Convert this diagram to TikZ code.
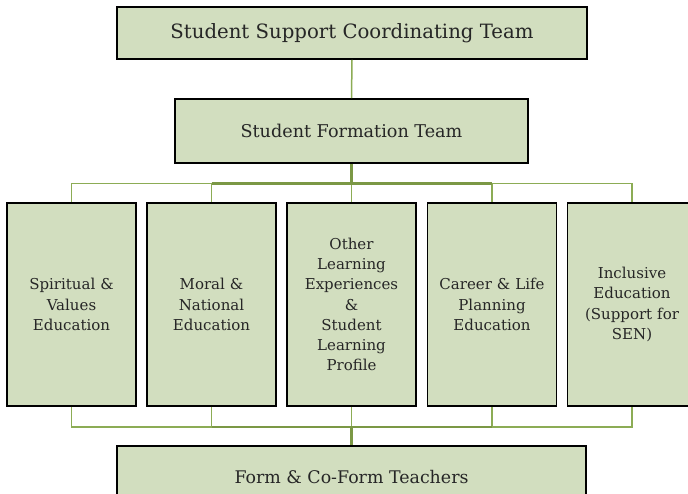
\documentclass[tikz,border=0pt]{standalone}
\usepackage{fontspec}
\setmainfont{DejaVu Serif}
\definecolor{boxfill}{HTML}{D2DEBF}
\definecolor{linelight}{HTML}{8CAC55}
\definecolor{linedark}{HTML}{7B9845}
\definecolor{txt}{HTML}{262626}
\begin{document}
\begin{tikzpicture}[x=1pt,y=-1pt,
  box/.style={draw=black,line width=1.6pt,fill=boxfill,inner sep=0pt,text=txt,align=center},
  colbox/.style={box,minimum width=129pt,minimum height=203pt,text width=127pt,font=\fontsize{15}{20.2}\selectfont},
  thinline/.style={draw=linelight,line width=1.5pt},
  thickline/.style={draw=linedark,line width=2.3pt}]
\clip (0,0) rectangle (688,493);
\fill[white] (0,0) rectangle (688,493);
\node[box,minimum width=470pt,minimum height=52pt,font=\fontsize{19.7}{22}\selectfont] (top) at (352,33) {Student Support Coordinating Team};
\node[box,minimum width=353pt,minimum height=64pt,font=\fontsize{17.6}{20}\selectfont] (sft) at (351.5,131) {Student Formation Team};
\node[colbox] (c1) at (71.5,304.5) {Spiritual \&\\Values\\Education};
\node[colbox] (c2) at (211.5,304.5) {Moral \&\\National\\Education};
\node[colbox] (c3) at (351.5,304.5) {Other\\Learning\\Experiences\\\&\\Student\\Learning\\Profile};
\node[colbox] (c4) at (492,304.5) {Career \& Life\\Planning\\Education};
\node[colbox] (c5) at (632,304.5) {Inclusive\\Education\\(Support for\\SEN)};
\node[box,minimum width=469pt,minimum height=62pt,font=\fontsize{17.4}{20}\selectfont] (form) at (351.5,477) {Form \& Co-Form Teachers};
\coordinate (b1) at (351.5,183.5);
\coordinate (b2) at (351.5,427);
% top connectors
\draw[thinline] (top.south) -- (sft.north);
\draw[thinline] (c1.north) |- (b1) -| (c5.north);
\draw[thinline] (c2.north) -- (c2.north |- b1);
\draw[thinline] (c4.north) -- (c4.north |- b1);
\draw[thinline] (c3.north) -- (b1);
\draw[thickline] (c2.north |- b1) -- (c4.north |- b1);
\draw[thickline] (sft.south) -- (b1);
% bottom connectors
\draw[thinline] (c1.south) |- (b2) -| (c5.south);
\draw[thinline] (c2.south) -- (c2.south |- b2);
\draw[thinline] (c4.south) -- (c4.south |- b2);
\draw[thinline] (c3.south) -- (b2);
\draw[thickline] (c2.south |- b2) -- (c4.south |- b2);
\draw[thickline] (b2) -- (form.north);
\end{tikzpicture}
\end{document}
